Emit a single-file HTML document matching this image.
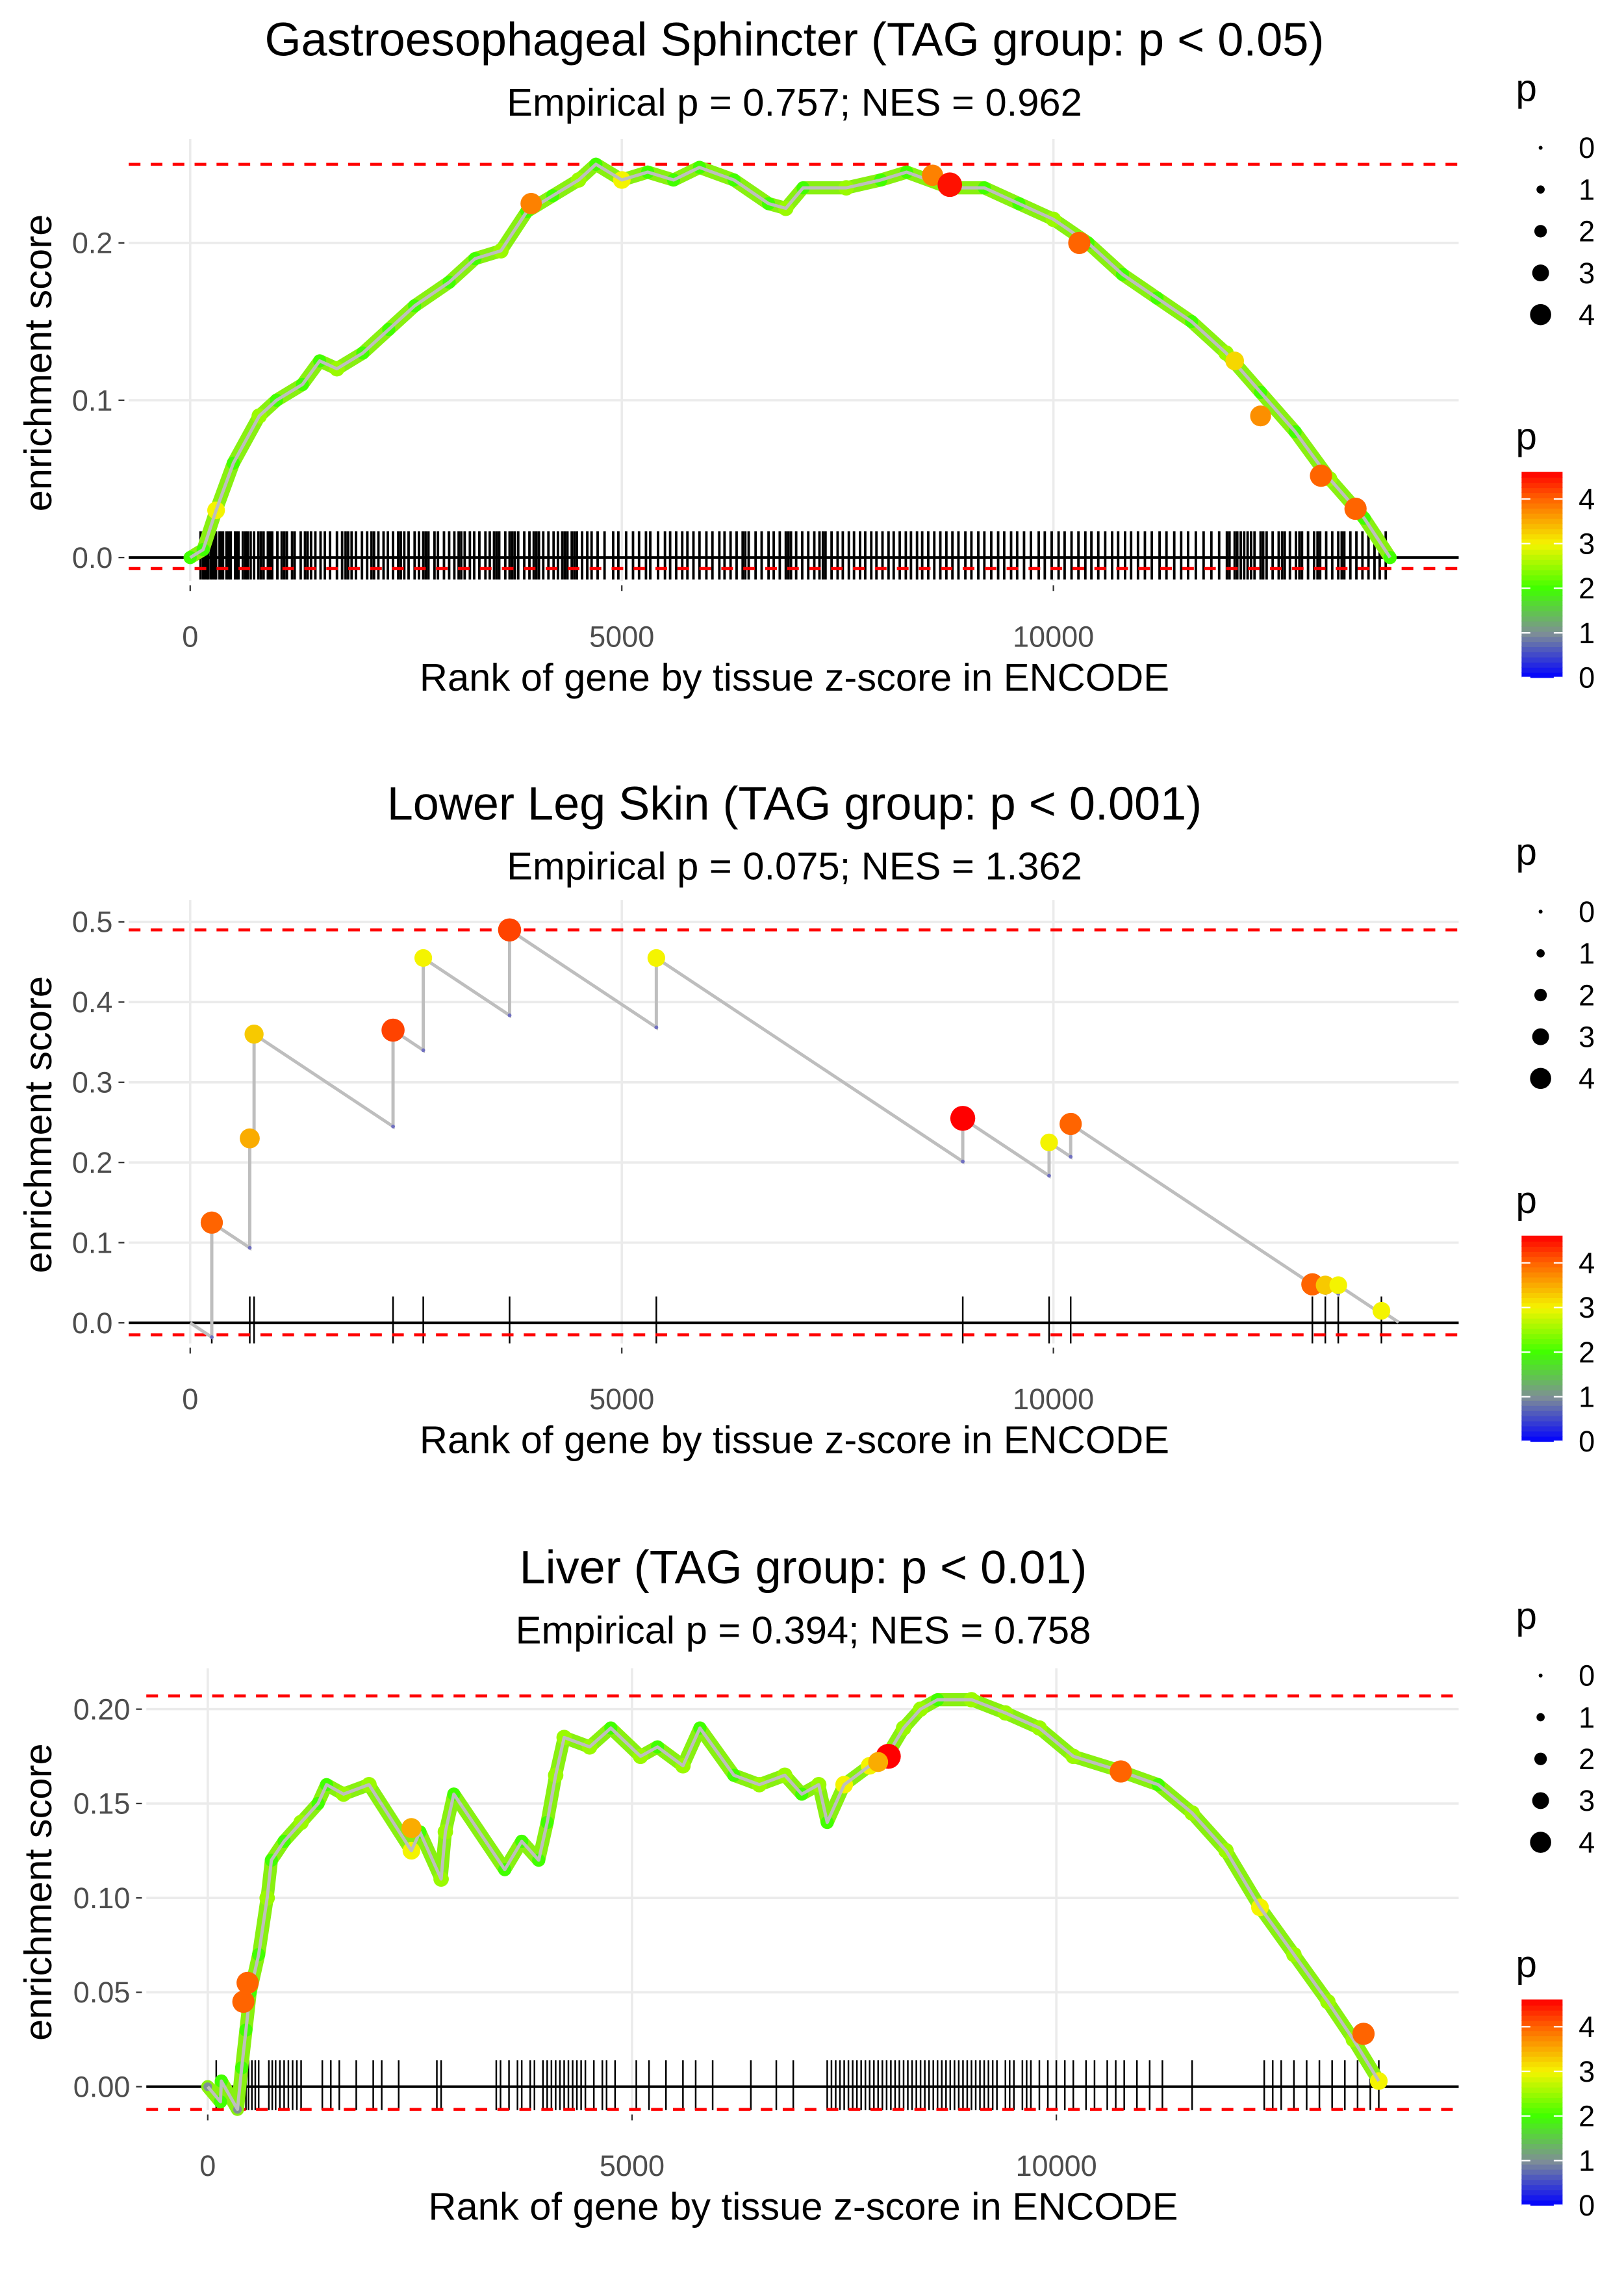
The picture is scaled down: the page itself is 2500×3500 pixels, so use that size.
<!DOCTYPE html>
<html><head><meta charset="utf-8">
<style>
html,body{margin:0;padding:0;background:#fff;}
svg{display:block;font-family:"Liberation Sans",sans-serif;}
</style></head>
<body>
<svg id="chart" width="2500" height="3500" viewBox="0 0 1110 1554" preserveAspectRatio="none" xmlns="http://www.w3.org/2000/svg"></svg>
<script>
// ---------- Panel 1 data ----------
const p1CurveRanks = [0,150,300,500,800,1000,1300,1500,1700,2000,2300,2600,3000,3300,3600,3900,4200,4500,4700,5000,5300,5600,5900,6300,6700,6900,7100,7600,8000,8300,8800,9200,9600,10000,10400,10800,11200,11600,12000,12400,12800,13200,13600,13900];
const p1CurveES = [0,0.005,0.03,0.06,0.09,0.10,0.11,0.125,0.12,0.13,0.145,0.16,0.175,0.19,0.195,0.22,0.23,0.24,0.25,0.24,0.245,0.24,0.248,0.24,0.225,0.222,0.235,0.235,0.24,0.245,0.235,0.235,0.225,0.215,0.2,0.18,0.165,0.15,0.13,0.105,0.08,0.05,0.025,0.0];
const p1CurveP = [2,2,3,2,2.5,2,2,2,2.5,2,2,2,2,2,2.5,2,2,2.5,2,3,2,2,2,2,2,2.5,2,2.5,2,2,2,2,2,2.5,2,2,2,2,2.5,2,2,2.5,2,2];
const p1HiRanks = [3950,8600,8800,10300,12100,12400,13100,13500];
const p1HiES = [0.225,0.243,0.237,0.2,0.125,0.09,0.052,0.031];
const p1HiP = [3.8,3.8,4.5,4,3.2,3.7,4,4];
const p1Rug = [120,150,170,195,210,240,260,285,300,340,360,380,420,445,470,520,540,560,610,640,665,700,740,790,820,850,900,925,950,1010,1060,1090,1120,1180,1210,1280,1330,1360,1400,1450,1510,1560,1620,1700,1760,1800,1830,1870,1920,1990,2050,2100,2130,2180,2240,2290,2350,2410,2440,2480,2530,2600,2650,2700,2730,2760,2830,2870,2940,3000,3060,3110,3140,3180,3240,3290,3350,3420,3470,3520,3550,3580,3650,3700,3730,3760,3800,3870,3930,3980,4010,4040,4090,4150,4210,4260,4310,4340,4370,4420,4450,4480,4540,4600,4650,4720,4800,4900,4960,5050,5130,5200,5280,5330,5420,5500,5560,5630,5700,5760,5830,5900,5980,6050,6130,6190,6260,6330,6400,6430,6470,6550,6620,6700,6760,6830,6900,6930,6960,7020,7090,7160,7230,7290,7330,7360,7430,7500,7560,7630,7690,7760,7820,7890,7950,8020,8090,8150,8220,8290,8350,8420,8480,8550,8620,8690,8760,8830,8900,8980,9050,9130,9200,9280,9360,9430,9510,9580,9660,9740,9830,9900,9980,10060,10130,10210,10290,10370,10440,10520,10600,10680,10750,10830,10900,10980,11060,11140,11230,11310,11400,11480,11560,11650,11740,11830,11920,12010,12040,12100,12130,12170,12210,12250,12290,12330,12400,12430,12470,12540,12610,12650,12680,12740,12810,12850,12880,12950,13020,13060,13090,13160,13230,13300,13340,13370,13440,13510,13580,13650,13720,13780,13850];

// ---------- Panel 2 data ----------
const p2HitRanks = [250,690,740,2350,2700,3700,5400,8950,9950,10200,13000,13150,13300,13800];
const p2HitES = [0.125,0.23,0.36,0.365,0.455,0.49,0.455,0.255,0.225,0.248,0.048,0.047,0.047,0.015];
const p2HitP = [4,3.5,3.3,4.2,3,4.2,3,4.6,3,4,4,3.3,3,3];
const p2MissPenalty = [0.0000715];
const p2EndRank = [14000];

// ---------- Panel 3 data ----------
const p3CurveRanks = [0,150,160,350,400,450,500,600,700,750,900,1100,1300,1400,1600,1900,2400,2500,2750,2800,2900,3500,3700,3900,4000,4100,4200,4500,4750,5100,5300,5600,5800,6200,6500,6800,7000,7200,7300,7500,7800,8000,8200,8400,8600,9000,9400,9800,10200,10700,11200,11600,12000,12400,12800,13200,13500,13800];
const p3CurveES = [0,-0.008,0.003,-0.012,0.01,0.03,0.05,0.07,0.1,0.12,0.13,0.14,0.15,0.16,0.155,0.16,0.125,0.135,0.11,0.135,0.155,0.115,0.13,0.12,0.14,0.165,0.185,0.18,0.19,0.175,0.18,0.17,0.19,0.165,0.16,0.165,0.155,0.16,0.14,0.16,0.17,0.175,0.19,0.2,0.205,0.205,0.198,0.19,0.175,0.168,0.16,0.145,0.125,0.095,0.07,0.045,0.025,0.003];
const p3CurveP = [1,2,2,1,2,2,2,2,2.5,2,2,2.5,2,2,2.5,2.5,3,2,2.5,2.5,2,2,2,2,2,2.5,2.5,2.5,2,2.5,2,2.5,2,2,2.5,2.5,2,2.5,2,3,3,2.5,2.5,2.5,2,2.5,2.5,2.5,2.5,2.5,2,2.5,2.5,3,2.5,2.5,2.5,3];
const p3HiRanks = [420,470,2400,8020,7900,10760,13620];
const p3HiES = [0.045,0.055,0.137,0.175,0.172,0.167,0.028];
const p3HiP = [4,4,3.5,4.6,3.5,4,4];
const p3Rug = [100,380,420,450,480,520,560,600,720,760,800,850,900,950,1000,1050,1100,1350,1450,1550,1750,1950,2050,2250,2700,2750,3400,3450,3550,3650,3700,3800,3850,3950,4000,4050,4100,4150,4200,4250,4300,4350,4400,4450,4550,4650,4700,4800,5050,5200,5400,5600,5750,5950,6400,6700,6900,7300,7350,7400,7450,7500,7550,7600,7650,7700,7750,7800,7850,7900,7950,8000,8050,8100,8150,8200,8250,8300,8350,8400,8450,8500,8550,8600,8650,8700,8750,8800,8850,8900,8950,9000,9050,9100,9150,9200,9250,9300,9400,9450,9500,9600,9650,9700,9800,9900,10000,10100,10200,10350,10450,10600,10700,10800,10950,11100,11250,11600,12450,12550,12650,12800,12950,13100,13250,13400,13550,13700,13800];

const xTickVals = [0,5000,10000];
const xTickLabels = ["0","5000","10000"];
const legendSizeVals = [0,1,2,3,4];
const legendColorVals = [0,1,2,3,4];

const NS = "http://www.w3.org/2000/svg";
const svg = document.getElementById("chart");
function mk(tag, attrs, parent){
  const e = document.createElementNS(NS, tag);
  for (const k in attrs) e.setAttribute(k, attrs[k]);
  (parent||svg).appendChild(e);
  return e;
}
const stops = [[0,[0,0,255]],[1,[127,143,150]],[2,[64,255,0]],[3,[244,244,0]],[4,[255,100,0]],[4.6,[255,0,0]]];
function pColor(p){
  if (p<=0) return "rgb(0,0,255)";
  for (let i=1;i<stops.length;i++){
    if (p<=stops[i][0]){
      const a=stops[i-1], b=stops[i], t=(p-a[0])/(b[0]-a[0]);
      return "rgb("+a[1].map((v,j)=>Math.round(v+(b[1][j]-v)*t)).join(",")+")";
    }
  }
  return "rgb(255,0,0)";
}
function pRadius(p){ return 1.4 + p*1.55; }

function panel(cfg){
  const g = mk("g",{});
  
  
  const X = r => cfg.x0 + r*cfg.xs;
  const Y = v => cfg.y0 - v*cfg.ys;
  cfg.yTicks.forEach(v=>{
    const l = mk("line",{x1:cfg.left,x2:997,y1:Y(v),y2:Y(v),stroke:"#ebebeb","stroke-width":1.6},g);
    
    
  });
  xTickVals.forEach(v=>{
    const l = mk("line",{x1:X(v),x2:X(v),y1:cfg.top,y2:cfg.bottom,stroke:"#ebebeb","stroke-width":1.6},g);
    
    
    const tk = mk("line",{x1:X(v),x2:X(v),y1:cfg.bottom+3,y2:cfg.bottom+7,stroke:"#333","stroke-width":1},g);
    
    
  });
  const z = mk("line",{x1:cfg.left,x2:997,y1:Y(0),y2:Y(0),stroke:"#000","stroke-width":1.8},g);
  
  
  const rg = mk("g",{},g);
  
  
  cfg.rug.forEach(r=>{
    const l = mk("line",{x1:X(r),x2:X(r),y1:cfg.rugTop,y2:cfg.rugBot,stroke:"#000","stroke-width":cfg.rugW},rg);
    
    
  });
  [cfg.maxES, cfg.minES].forEach((v,i)=>{
    const l = mk("line",{x1:cfg.left,x2:997,y1:Y(v),y2:Y(v),stroke:"#ff0000","stroke-width":2,"stroke-dasharray":"8,7"},g);
    
    
  });
  cfg.draw(g,X,Y);
  cfg.yTicks.forEach((v,i)=>{
    const t = mk("text",{x:cfg.yLabelX,y:Y(v)+7,"text-anchor":"end","font-size":20,fill:"#4d4d4d"},g);
    t.textContent = cfg.yLabels[i];
    
    
    const tk = mk("line",{x1:cfg.yLabelX+4,x2:cfg.yLabelX+8,y1:Y(v),y2:Y(v),stroke:"#333","stroke-width":1},g);
    
    
  });
  xTickVals.forEach((v,i)=>{
    const t = mk("text",{x:X(v),y:cfg.bottom+45,"text-anchor":"middle","font-size":20,fill:"#4d4d4d"},g);
    t.textContent = xTickLabels[i];
    
    
  });
  const xt = mk("text",{x:cfg.xTitleX,y:cfg.bottom+75,"text-anchor":"middle","font-size":26.5,fill:"#000"},g);
  xt.textContent = "Rank of gene by tissue z-score in ENCODE";
  
  
  const cy = (cfg.top+cfg.bottom)/2 + 2;
  const yt = mk("text",{x:0,y:0,transform:"translate(35,"+cy+") rotate(-90)","text-anchor":"middle","font-size":26.5,fill:"#000"},g);
  yt.textContent = "enrichment score";
  
  
  const tt = mk("text",{x:cfg.titleX,y:cfg.titleY,"text-anchor":"middle","font-size":32,fill:"#000"},g);
  tt.textContent = cfg.title;
  
  
  const st = mk("text",{x:cfg.titleX,y:cfg.titleY+41,"text-anchor":"middle","font-size":26.5,fill:"#000"},g);
  st.textContent = cfg.subtitle;
  
  
  const off = cfg.legOff;
  const lg = mk("g",{},g);
  
  
  const lp = mk("text",{x:1036,y:off+69,"font-size":26},lg);
  lp.textContent = "p";
  
  
  legendSizeVals.forEach((v,i)=>{
    const c = mk("circle",{cx:1053,cy:off+101+i*28.5,r:pRadius(v)*0.95,fill:"#000"},lg);
    
    
    const t = mk("text",{x:1079,y:off+108+i*28.5,"font-size":20},lg);
    t.textContent = String(v);
    
    
  });
  const cg = mk("g",{},g);
  
  
  const cp = mk("text",{x:1036,y:off+307,"font-size":26},cg);
  cp.textContent = "p";
  
  
  const CY = v => off+463 - v*30.5;
  const steps = 40;
  for (let i=0;i<steps;i++){
    const v0 = 4.6*i/steps, v1 = 4.6*(i+1)/steps;
    const r = mk("rect",{x:1040,y:CY(v1)-0.3,width:28,height:CY(v0)-CY(v1)+0.6,fill:pColor((v0+v1)/2)},cg);
    
    
  }
  legendColorVals.forEach(v=>{
    const a = mk("line",{x1:1040,x2:1046,y1:CY(v),y2:CY(v),stroke:"#fff","stroke-width":1},cg);
    
    
    const b = mk("line",{x1:1062,x2:1068,y1:CY(v),y2:CY(v),stroke:"#fff","stroke-width":1},cg);
    
    
    const t = mk("text",{x:1079,y:CY(v)+7,"font-size":20},cg);
    t.textContent = String(v);
    
    
  });
}

function curveDraw(ranks, es, ps, hiR, hiE, hiP){
  return function(g,X,Y){
    const pts = ranks.map((r,i)=>X(r)+","+Y(es[i])).join(" ");
    const band = mk("polyline",{points:pts,fill:"none",stroke:"#88f010","stroke-width":9,"stroke-linejoin":"round","stroke-linecap":"round"},g);
    
    
    ranks.forEach((r,i)=>{
      const c = mk("circle",{cx:X(r),cy:Y(es[i]),r:pRadius(ps[i]),fill:pColor(ps[i])},g);
      
      
    });
    const line = mk("polyline",{points:pts,fill:"none",stroke:"#bebebe","stroke-width":2.2,"stroke-linejoin":"round"},g);
    
    
    hiR.forEach((r,i)=>{
      const c = mk("circle",{cx:X(r),cy:Y(hiE[i]),r:pRadius(hiP[i]),fill:pColor(hiP[i])},g);
      
      
    });
  };
}

panel({name:"panel-gastroesophageal", x0:130, xs:0.059, y0:381, ys:1075, top:95, bottom:397, left:88, yLabelX:77, rugW:1.7,
  yTicks:[0,0.1,0.2], yLabels:["0.0","0.1","0.2"], rug:p1Rug, rugTop:363, rugBot:396,
  maxES:0.25, minES:-0.007, xTitleX:543, titleX:543, titleY:38, legOff:0,
  title:"Gastroesophageal Sphincter (TAG group: p < 0.05)", subtitle:"Empirical p = 0.757; NES = 0.962",
  draw:curveDraw(p1CurveRanks,p1CurveES,p1CurveP,p1HiRanks,p1HiES,p1HiP)});

panel({name:"panel-lower-leg-skin", x0:130, xs:0.059, y0:904, ys:548, top:615, bottom:918, left:88, yLabelX:77, rugW:1.1,
  yTicks:[0,0.1,0.2,0.3,0.4,0.5], yLabels:["0.0","0.1","0.2","0.3","0.4","0.5"], rug:p2HitRanks, rugTop:886, rugBot:918,
  maxES:0.49, minES:-0.015, xTitleX:543, titleX:543, titleY:560, legOff:522,
  title:"Lower Leg Skin (TAG group: p < 0.001)", subtitle:"Empirical p = 0.075; NES = 1.362",
  draw:function(g,X,Y){
    let pr=0, pe=0; let d="M"+X(0)+","+Y(0);
    const lows=[];
    p2HitRanks.forEach((r,i)=>{
      const before = pe - p2MissPenalty[0]*(r-pr);
      d += " L"+X(r)+","+Y(before)+" L"+X(r)+","+Y(p2HitES[i]);
      lows.push([r,before]);
      pr=r; pe=p2HitES[i];
    });
    d += " L"+X(p2EndRank[0])+","+Y(pe - p2MissPenalty[0]*(p2EndRank[0]-pr));
    const path = mk("path",{d:d,fill:"none",stroke:"#bebebe","stroke-width":2.2},g);
    
    
    lows.forEach(l=>{
      const c = mk("circle",{cx:X(l[0]),cy:Y(l[1]),r:1.3,fill:"#7070c0"},g);
      
      
    });
    p2HitRanks.forEach((r,i)=>{
      const c = mk("circle",{cx:X(r),cy:Y(p2HitES[i]),r:pRadius(p2HitP[i]),fill:pColor(p2HitP[i])},g);
      
      
    });
  }});

panel({name:"panel-liver", x0:142, xs:0.058, y0:1426, ys:1290, top:1140, bottom:1442, left:100, yLabelX:89, rugW:1.1,
  yTicks:[0,0.05,0.1,0.15,0.2], yLabels:["0.00","0.05","0.10","0.15","0.20"], rug:p3Rug, rugTop:1408, rugBot:1442,
  maxES:0.207, minES:-0.012, xTitleX:549, titleX:549, titleY:1082, legOff:1044,
  title:"Liver (TAG group: p < 0.01)", subtitle:"Empirical p = 0.394; NES = 0.758",
  draw:curveDraw(p3CurveRanks,p3CurveES,p3CurveP,p3HiRanks,p3HiES,p3HiP)});
</script>
</body></html>
